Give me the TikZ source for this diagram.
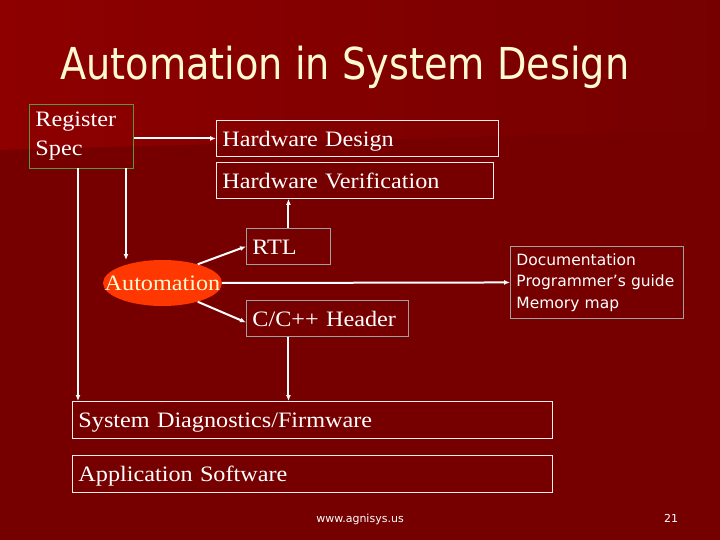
\documentclass[tikz,border=0pt]{standalone}
\usepackage{fontspec}
\setmainfont{Liberation Serif}[FakeStretch=1.1]
\newfontfamily\tah{DejaVu Sans}
\newfontfamily\tahn{DejaVu Sans}[FakeStretch=0.87]
\usetikzlibrary{arrows.meta,shapes.geometric}
\definecolor{bgred}{RGB}{118,0,0}
\definecolor{bglight}{RGB}{142,0,0}
\definecolor{cream}{RGB}{255,250,210}
\definecolor{grayline}{RGB}{160,160,160}
\definecolor{greenline}{RGB}{90,150,60}
\definecolor{autofill}{RGB}{255,55,0}
\begin{document}
\begin{tikzpicture}[x=1pt,y=-1pt,
  box/.style={draw=white!92!red, line width=0.9pt, anchor=north west, inner xsep=6pt, inner ysep=0pt,
    align=left, text=white, font=\fontsize{22}{29}\selectfont},
  onel/.style={box, text height=18pt, text depth=2pt},
  graybox/.style={onel, draw=grayline},
  conn/.style={draw=white, line width=2pt, -{Latex[length=6pt,width=5pt]}}
]
\useasboundingbox (0,0) rectangle (720,540);
\fill[bgred] (0,0) rectangle (720,540);
\shade[left color=bglight, right color=bgred] (0,0) -- (720,0) -- (720,130) -- (0,150) -- cycle;

\node[anchor=base west, inner sep=0, text=cream, font=\tahn\fontsize{44}{48}\selectfont] (title) at (60,80) {Automation in System Design};

\node[box, draw=greenline, text width=92pt, minimum height=64pt] (reg) at (29,104) {Register\\Spec};
\node[onel, text width=270pt, minimum height=36pt] (hd) at (216,120) {Hardware Design};
\node[onel, text width=265pt, minimum height=36pt] (hv) at (216,162) {Hardware Verification};
\node[graybox, text width=72pt, minimum height=36pt] (rtl) at (246,228) {RTL};
\node[graybox, text width=150pt, minimum height=36pt] (cpp) at (246,300) {C/C++ Header};
\node[box, draw=grayline, text width=161pt, minimum height=72pt, font=\tah\fontsize{15.5}{21.5}\selectfont] (doc) at (510,246) {Documentation\\Programmer’s guide\\Memory map};
\node[onel, text width=468pt, minimum height=37pt] (sys) at (72,401) {System Diagnostics/Firmware};
\node[onel, text width=468pt, minimum height=37pt] (app) at (72,455) {Application Software};

\node[ellipse, fill=autofill, inner sep=0, minimum width=119pt, minimum height=46pt,
  text=cream, font=\fontsize{22}{24}\selectfont] (auto) at (162.5,283) {\makebox[0pt]{Automation}};

\node[anchor=base, inner sep=0, text=white, font=\tah\fontsize{11}{13}\selectfont] (url) at (360,522) {www.agnisys.us};
\node[anchor=base, inner sep=0, text=white, font=\tah\fontsize{11}{13}\selectfont] (pg) at (671,522) {21};

\coordinate (regA) at (126,168);
\coordinate (autoT) at (126,260);
\coordinate (regL) at (78,168);
\draw[conn] (reg.east |- hd.west) -- (hd.west);
\draw[conn] (regA) -- (autoT);
\draw[conn] (regL) -- (regL |- sys.north);
\draw[conn] (auto.28) -- (rtl.west);
\draw[conn] (auto.-28) -- ([yshift=-4pt]cpp.west);
\draw[conn] (auto.east) -- (doc.west);
\draw[conn] (rtl.north) -- (rtl.north |- hv.south);
\draw[conn] (cpp.south -| rtl.north) -- (rtl.north |- sys.north);
\end{tikzpicture}
\end{document}
